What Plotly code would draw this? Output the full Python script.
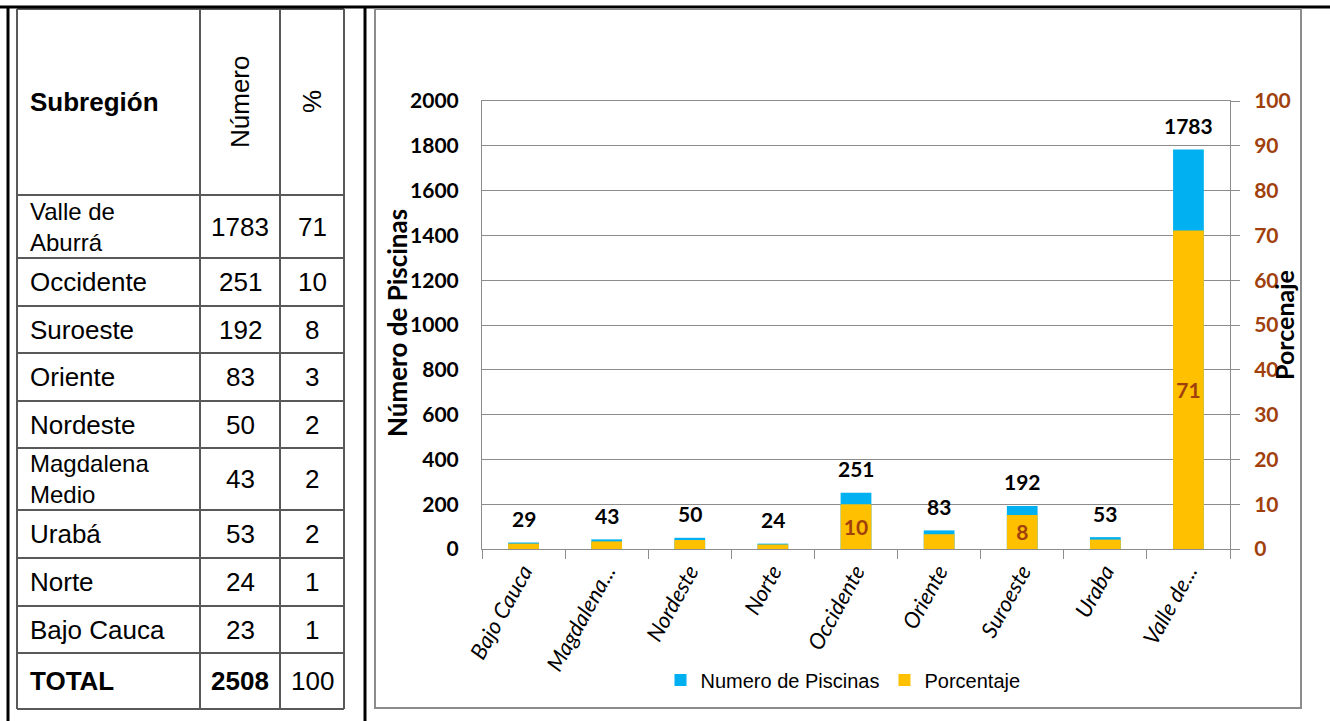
import plotly.graph_objects as go

# datos de la tabla (subregiones de Antioquia)
tabla_subregion = ["Valle de<br>Aburrá", "Occidente", "Suroeste", "Oriente", "Nordeste",
                   "Magdalena<br>Medio", "Urabá", "Norte", "Bajo Cauca"]
tabla_numero = [1783, 251, 192, 83, 50, 43, 53, 24, 23]
tabla_pct = [71, 10, 8, 3, 2, 2, 2, 1, 1]
total_numero = 2508
total_pct = 100

# datos del grafico
categorias = ["Bajo Cauca", "Magdalena...", "Nordeste", "Norte", "Occidente",
              "Oriente", "Suroeste", "Uraba", "Valle de..."]
num_piscinas = [29, 43, 50, 24, 251, 83, 192, 53, 1783]
porcentaje = [1.2, 1.7, 2.0, 1.0, 10.0, 3.3, 7.6, 2.1, 71.1]

W, H = 1330, 721
CYAN = "#00B0F0"
GOLD = "#FFC000"
BROWN = "#A0410D"
GRID = "#8C8C8C"
CHART_FONT = "Lato, Calibri, Open Sans, sans-serif"
TABLE_FONT = "Liberation Sans, Arial, sans-serif"


def px(x):
    return x / W


def py(y):
    return 1 - y / H


def texto(x, y, s, font, xanchor="center", angle=0):
    # anotacion en coordenadas de pixel de la pagina
    return dict(x=px(x), y=py(y), xref="paper", yref="paper", text=s, showarrow=False,
                xanchor=xanchor, yanchor="middle", align="left", textangle=angle, font=font)


fig = go.Figure()

fig.add_trace(go.Bar(
    x=categorias, y=num_piscinas, name="Numero de Piscinas",
    marker=dict(color=CYAN, line=dict(width=0)), width=0.37, yaxis="y",
))
fig.add_trace(go.Bar(
    x=categorias, y=porcentaje, name="Porcentaje",
    marker=dict(color=GOLD, line=dict(width=0)), width=0.37, yaxis="y2",
    text=[f"{v:.0f}" if v >= 5 else "" for v in porcentaje],
    textposition="inside", insidetextanchor="middle", textangle=0,
    textfont=dict(family=CHART_FONT, size=21, color=BROWN, weight="bold"),
))

# etiquetas de numero de piscinas sobre las barras
annotations = []
for c, v in zip(categorias, num_piscinas):
    annotations.append(dict(
        x=c, y=v, xref="x", yref="y", text=str(v), showarrow=False,
        xanchor="center", yanchor="middle",
        yshift=24, font=dict(family=CHART_FONT, size=21, color="black", weight="bold"),
    ))

# titulos de los ejes
title_font = dict(family=CHART_FONT, size=26, color="black")
annotations.append(texto(397, 323, "<b>Número de Piscinas</b>", title_font, angle=-90))
annotations.append(texto(1284, 325, "<b>Porcenaje</b>", dict(title_font, size=25), angle=-90))

# tabla: lineas
shapes = []
row_lines = [9, 195, 258, 306, 353, 401, 448, 510, 558, 606, 653, 709]
col_lines = [17, 200, 280, 344]
for yl in row_lines:
    shapes.append(dict(type="line", xref="paper", yref="paper", x0=px(17), x1=px(344),
                       y0=py(yl), y1=py(yl), line=dict(color="#595959", width=2)))
for xl in col_lines:
    shapes.append(dict(type="line", xref="paper", yref="paper", x0=px(xl), x1=px(xl),
                       y0=py(9), y1=py(709), line=dict(color="#595959", width=2)))
# bordes negros del documento
shapes.append(dict(type="line", xref="paper", yref="paper", x0=0, x1=1, y0=py(7), y1=py(7),
                   line=dict(color="black", width=3)))
for xl in [8, 365]:
    shapes.append(dict(type="line", xref="paper", yref="paper", x0=px(xl), x1=px(xl),
                       y0=py(7), y1=0, line=dict(color="black", width=3)))
# marco del grafico
shapes.append(dict(type="rect", xref="paper", yref="paper", x0=px(375), x1=px(1301),
                   y0=py(708), y1=py(9), line=dict(color="#8C8C8C", width=2)))

# tabla: textos
tfont = dict(family=TABLE_FONT, size=26, color="black")
annotations.append(texto(28, 102, "<b>Subregión</b>", tfont, xanchor="left"))
annotations.append(texto(240, 102, "Número", tfont, angle=-90))
annotations.append(texto(312, 102, "%", tfont, angle=-90))
for i, (s, n, p) in enumerate(zip(tabla_subregion, tabla_numero, tabla_pct)):
    yc = (row_lines[i + 1] + row_lines[i + 2]) / 2
    f = dict(tfont, size=24) if "<br>" in s else tfont
    annotations.append(texto(28, yc, s, f, xanchor="left"))
    annotations.append(texto(240, yc, str(n), tfont))
    annotations.append(texto(312, yc, str(p), tfont))
yc = (row_lines[-2] + row_lines[-1]) / 2
annotations.append(texto(28, yc, "<b>TOTAL</b>", tfont, xanchor="left"))
annotations.append(texto(240, yc, f"<b>{total_numero}</b>", tfont))
annotations.append(texto(312, yc, str(total_pct), tfont))

fig.update_layout(
    template="none",
    width=W, height=H,
    margin=dict(l=0, r=0, t=0, b=0, pad=0),
    paper_bgcolor="white", plot_bgcolor="white",
    barmode="overlay",
    showlegend=True,
    legend=dict(orientation="h", x=px(843), y=py(680), xanchor="center", yanchor="middle",
                font=dict(family=TABLE_FONT, size=20, color="black"),
                traceorder="normal", bgcolor="rgba(0,0,0,0)"),
    xaxis=dict(
        domain=[px(482), px(1230)],
        type="category", automargin=False,
        showline=True, linecolor=GRID, linewidth=1, mirror=True,
        ticks="outside", tickson="boundaries", ticklen=9, tickcolor=GRID,
        tickangle=-61,
        tickfont=dict(family=CHART_FONT, size=22, color="black", style="italic"),
        showgrid=False,
    ),
    yaxis=dict(
        domain=[py(549), py(101)], automargin=False,
        range=[0, 2000], dtick=200,
        showgrid=True, gridcolor=GRID, gridwidth=1,
        showline=True, linecolor=GRID, linewidth=1,
        ticks="", ticklabelstandoff=18,
        tickfont=dict(family=CHART_FONT, size=21, color="black", weight="bold"),
        zeroline=False,
    ),
    yaxis2=dict(
        overlaying="y", side="right", anchor="x", automargin=False,
        range=[0, 100], dtick=10,
        showgrid=False,
        showline=True, linecolor=GRID, linewidth=1,
        ticks="outside", ticklen=9, tickcolor=GRID, ticklabelstandoff=10,
        tickfont=dict(family=CHART_FONT, size=21, color=BROWN, weight="bold"),
        zeroline=False,
    ),
    annotations=annotations,
    shapes=shapes,
)

fig.write_html("out.html", config={"displayModeBar": False},
               post_script="document.body.style.margin='0';")
